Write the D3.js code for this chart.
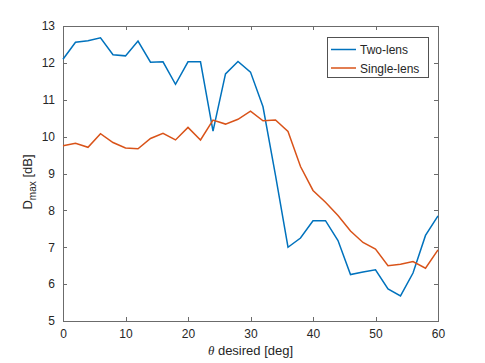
<!DOCTYPE html>
<html>
<head>
<meta charset="utf-8">
<script src="https://cdn.jsdelivr.net/npm/d3@7"></script>
<style>
  body { margin: 0; background: #fff; }
  text { font-family: "Liberation Sans", Arial, sans-serif; fill: #262626; }
</style>
</head>
<body>
<script>
// angles (deg)
var theta = [0,2,4,6,8,10,12,14,16,18,20,22,24,26,28,30,32,34,36,38,40,42,44,46,48,50,52,54,56,58,60];

var twoLens = [12.10,12.56,12.60,12.68,12.22,12.19,12.59,12.02,12.03,11.42,12.03,12.03,10.15,11.70,12.04,11.75,
               10.81,8.95,7.00,7.25,7.72,7.72,7.18,6.26,6.33,6.39,5.87,5.68,6.30,7.32,7.85];

var singleLens = [9.75,9.82,9.71,10.08,9.84,9.69,9.67,9.95,10.09,9.91,10.25,9.91,10.45,10.34,10.47,10.69,
                  10.43,10.45,10.14,9.19,8.54,8.22,7.86,7.44,7.13,6.95,6.50,6.54,6.61,6.43,6.93];

var xTicks = [0,10,20,30,40,50,60];
var yTicks = [5,6,7,8,9,10,11,12,13];

var width = 485, height = 363;
var margin = {left:63, right:47, top:26, bottom:42};
var w = width - margin.left - margin.right;
var h = height - margin.top - margin.bottom;

var x = d3.scaleLinear().domain([0,60]).range([0,w]);
var y = d3.scaleLinear().domain([5,13]).range([h,0]);

var svg = d3.select("body").append("svg").attr("width",width).attr("height",height);
var g = svg.append("g").attr("transform","translate("+margin.left+","+margin.top+")");

// box
g.append("rect").attr("width",w).attr("height",h)
  .attr("fill","none").attr("stroke","#6b6b6b").attr("stroke-width",1)
  .attr("shape-rendering","crispEdges");

var tickLen = 4;
function styleAxis(sel){
  sel.select(".domain").remove();
  sel.selectAll(".tick line").attr("stroke","#6b6b6b").attr("shape-rendering","crispEdges");
  sel.selectAll("text").style("font-size","12px").attr("fill","#262626");
}

// bottom / left axes with inward ticks
g.append("g").attr("transform","translate(0,"+h+")")
  .call(d3.axisBottom(x).tickValues(xTicks).tickSize(-tickLen).tickPadding(8))
  .call(styleAxis);
g.append("g")
  .call(d3.axisLeft(y).tickValues(yTicks).tickSize(-tickLen).tickPadding(8))
  .call(styleAxis);
// top / right ticks only
g.append("g")
  .call(d3.axisTop(x).tickValues(xTicks).tickSize(-tickLen).tickFormat(""))
  .call(styleAxis);
g.append("g").attr("transform","translate("+w+",0)")
  .call(d3.axisRight(y).tickValues(yTicks).tickSize(-tickLen).tickFormat(""))
  .call(styleAxis);

var line = d3.line()
  .x(function(d,i){ return x(theta[i]); })
  .y(function(d){ return y(d); });

g.append("path").attr("d",line(twoLens))
  .attr("fill","none").attr("stroke","#0072BD").attr("stroke-width",1.5);
g.append("path").attr("d",line(singleLens))
  .attr("fill","none").attr("stroke","#D95319").attr("stroke-width",1.5);

// axis labels
var xl = svg.append("text")
  .attr("x", margin.left + w/2).attr("y", 355)
  .attr("text-anchor","middle").style("font-size","13px");
xl.append("tspan").style("font-style","italic").style("font-family","'Liberation Serif', serif").text("\u03b8");
xl.append("tspan").text(" desired [deg]");

var yl = svg.append("text")
  .attr("transform","translate(32,182) rotate(-90)")
  .attr("text-anchor","middle").style("font-size","13px");
yl.append("tspan").text("D");
yl.append("tspan").attr("dy",4).style("font-size","10px").text("max");
yl.append("tspan").attr("dy",-4).text(" [dB]");

// legend
var legend = svg.append("g").attr("transform","translate(327,37)");
legend.append("rect").attr("width",101).attr("height",40)
  .attr("fill","#fff").attr("stroke","#262626").attr("stroke-width",0.8)
  .attr("shape-rendering","crispEdges");
var names = ["Two-lens","Single-lens"];
var colors = ["#0072BD","#D95319"];
names.forEach(function(n,i){
  var yy = 12.5 + i*18.5;
  legend.append("line").attr("x1",4).attr("x2",29).attr("y1",yy).attr("y2",yy)
    .attr("stroke",colors[i]).attr("stroke-width",1.5);
  legend.append("text").attr("x",33).attr("y",yy+4.5).style("font-size","12px").text(n);
});
</script>
</body>
</html>
